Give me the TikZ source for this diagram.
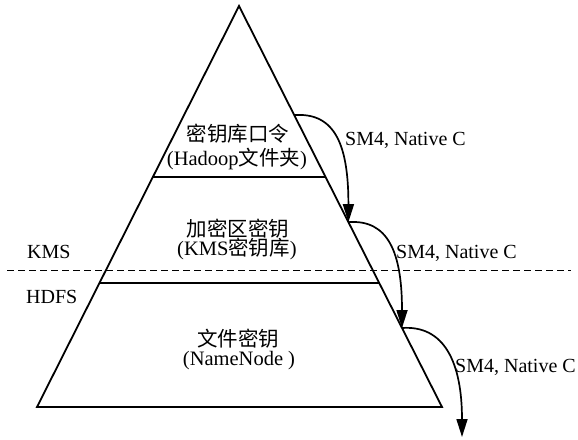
\documentclass[tikz,border=0pt]{standalone}
\usepackage{fontspec}
\setmainfont{Liberation Serif}
\newfontfamily\cjk{Noto Sans CJK SC}
\usetikzlibrary{arrows.meta,calc}
\tikzset{
  edge/.style={line width=1.8pt, line join=miter},
  lbl/.style={font=\fontsize{20.5}{22}\selectfont, inner sep=0pt, anchor=base},
  side/.style={font=\fontsize{20}{22}\selectfont, inner sep=0pt, anchor=base west},
  flow/.style={line width=1.7pt, -{Triangle[length=18pt,width=11pt]}},
  sep/.style={line width=1.6pt, dash pattern=on 7pt off 4pt}
}
\begin{document}
\begin{tikzpicture}[x=1pt,y=-1pt]
\useasboundingbox (0,0) rectangle (578,439);
\coordinate (A) at (239,6);
\coordinate (BL) at (37,407);
\coordinate (BR) at (442,407);
\draw[edge] (A) -- (BR) -- (BL) -- cycle;
% inner level lines
\coordinate (L1l) at ($(A)!0.426!(BL)$);
\coordinate (L1r) at ($(A)!0.426!(BR)$);
\coordinate (L2l) at ($(A)!0.691!(BL)$);
\coordinate (L2r) at ($(A)!0.691!(BR)$);
\draw[edge] (L1l) -- (L1r);
\draw[edge] (L2l) -- (L2r);
% dashed separator
\coordinate (Dl) at (7,270.5);
\coordinate (Dr) at (571,270.5);
\draw[sep] (Dl) -- (Dr);
% texts
\node[lbl] (t1a) at (238,141) {\cjk 密钥库口令};
\node[lbl] (t1b) at (237,165) {(Hadoop{\cjk 文件夹})};
\node[lbl] (t2a) at (238,236) {\cjk 加密区密钥};
\node[lbl] (t2b) at (237,255) {(KMS{\cjk 密钥库})};
\node[lbl] (t3a) at (238,346) {\cjk 文件密钥};
\node[lbl] (t3b) at (239,365) {(NameNode )};
\node[side] (kms) at (27,258) {KMS};
\node[side] (hdfs) at (26,303) {HDFS};
% arrows
\coordinate (P1) at ($(A)!0.272!(BR)$);
\coordinate (P2) at ($(A)!0.539!(BR)$);
\coordinate (P3) at ($(A)!0.803!(BR)$);
\coordinate (P4) at (462,437);
\draw[flow] (P1) .. controls ($(P1)+(42,-3)$) and ($(P2)+(0,-75)$) .. (P2);
\draw[flow] (P2) .. controls ($(P2)+(40,-3)$) and ($(P3)+(0,-75)$) .. (P3);
\draw[flow] (P3) .. controls ($(P3)+(42,-3)$) and ($(P4)+(0,-75)$) .. (P4);
\node[side] (s1) at (345,145) {SM4, Native C};
\node[side] (s2) at (396,258) {SM4, Native C};
\node[side] (s3) at (455,372) {SM4, Native C};
\end{tikzpicture}
\end{document}
